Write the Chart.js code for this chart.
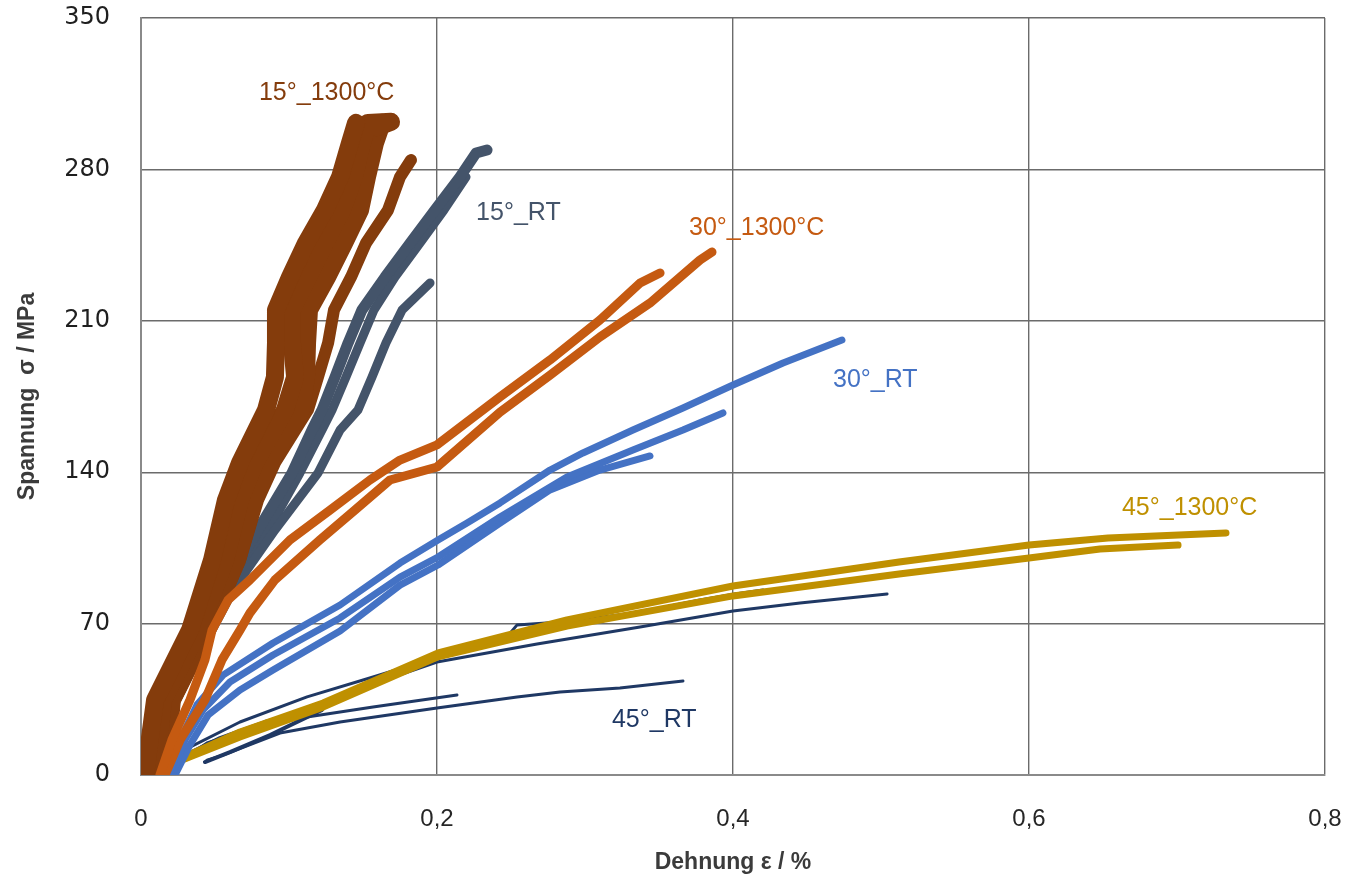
<!DOCTYPE html>
<html>
<head>
<meta charset="utf-8">
<script src="https://cdn.jsdelivr.net/npm/chart.js@4.4.1/dist/chart.umd.min.js"></script>
<style>
  body { margin: 0; background: #fff; }
  #wrap { width: 1357px; height: 883px; }
</style>
</head>
<body>
<div id="wrap"><canvas id="chart"></canvas></div>
<script>
// Dehnung (%) / Spannung (MPa) pairs
const brown1300L = [[0.0027,0],[0.0095,34.7],[0.0331,67.0],[0.048,99.4],[0.0574,127.1],[0.0669,144.3],[0.0845,168.8],[0.0905,184.0],[0.0912,199.7],[0.0912,215.0],[0.1007,230.2],[0.1115,245.9],[0.1243,261.2],[0.1345,276.5],[0.1412,292.2],[0.1453,301.5]];
const brown1300M = [[0.0095,0],[0.0149,34.7],[0.0392,67.0],[0.0568,99.4],[0.0669,127.1],[0.077,144.3],[0.0973,168.8],[0.1041,184.0],[0.102,199.7],[0.102,215.0],[0.1128,230.2],[0.1243,245.9],[0.1358,261.2],[0.1439,276.5],[0.1493,292.2],[0.1534,301.5],[0.1689,302.0],[0.1595,299.5]];
const brown1300R = [[0.0162,0],[0.0209,34.7],[0.0446,67.0],[0.0649,99.4],[0.0764,127.1],[0.0872,144.3],[0.1081,168.8],[0.1115,184.0],[0.1122,199.7],[0.1135,215.0],[0.1257,230.2],[0.1372,245.9],[0.148,261.2],[0.1527,276.5],[0.1581,292.2],[0.1628,301.5]];
const brown1300D = [[0.006,0],[0.023,34.7],[0.0466,67.0],[0.0669,99.4],[0.0791,127.1],[0.0905,144.3],[0.1128,168.8],[0.1196,184.0],[0.1264,199.7],[0.1304,215.0],[0.1419,230.2],[0.152,245.9],[0.1669,261.2],[0.175,276.5],[0.1824,284.3]];

const slateRT1 = [[0,0],[0.0095,36.1],[0.0399,67.0],[0.0588,90.2],[0.0791,113.3],[0.102,139.6],[0.1155,159.5],[0.1223,168.8],[0.1311,184.0],[0.1399,199.7],[0.1493,215.0],[0.1649,230.2],[0.1818,245.9],[0.1986,261.2],[0.2155,276.5],[0.2264,287.6],[0.2338,289.0]];
const slateRT2 = [[0,0],[0.0162,36.1],[0.0453,67.0],[0.0669,90.2],[0.0905,113.3],[0.1196,139.6],[0.1345,159.5],[0.1466,168.8],[0.1561,184.0],[0.1655,199.7],[0.1764,215.0],[0.1953,227.5]];
const slateRT3 = [[0.006,0],[0.02,36.1],[0.048,67.0],[0.066,90.2],[0.086,113.3],[0.1074,139.6],[0.1223,159.5],[0.1291,168.8],[0.1385,184.0],[0.148,199.7],[0.1574,215.0],[0.1716,230.2],[0.1885,245.9],[0.2047,261.2],[0.2196,276.5]];

const orange1300A = [[0.0128,0],[0.0209,16.2],[0.0331,34.7],[0.0432,53.2],[0.048,67.0],[0.0588,80.9],[0.0736,90.2],[0.1007,108.7],[0.1277,122.5],[0.1547,136.4],[0.175,145.6],[0.2,152.6],[0.2426,174.8],[0.2764,191.9],[0.3101,210.4],[0.3372,227.5],[0.3507,232.1]];
const orange1300B = [[0.0162,0],[0.0264,16.2],[0.0432,34.7],[0.0547,53.2],[0.0669,67.0],[0.0736,74.9],[0.0905,90.2],[0.1209,108.7],[0.1446,122.5],[0.1682,136.4],[0.2,142.4],[0.2426,167.8],[0.2764,184.9],[0.3101,202.5],[0.3439,218.2],[0.3777,238.1],[0.3858,241.8]];

const blueRT1 = [[0.0196,0],[0.0264,16.2],[0.0378,32.4],[0.0554,46.2],[0.0892,61.0],[0.1345,78.6],[0.175,98.0],[0.2007,108.7],[0.2203,116.5],[0.2426,125.8],[0.2764,141.0],[0.2986,148.9],[0.3324,159.5],[0.3662,169.7],[0.4,180.3],[0.4338,190.5],[0.4736,201.1]];
const blueRT2 = [[0.0209,0],[0.0297,16.2],[0.0419,30.1],[0.0601,43.0],[0.0892,55.5],[0.1345,72.6],[0.175,91.5],[0.2007,100.8],[0.2426,119.3],[0.2878,137.8],[0.3324,150.3],[0.3662,159.5],[0.3932,167.4]];
const blueRT3 = [[0.023,0],[0.0331,13.9],[0.0453,27.7],[0.0669,39.3],[0.0892,48.5],[0.1345,66.6],[0.175,87.8],[0.2007,97.1],[0.2426,116.5],[0.2764,131.8],[0.3101,141.0],[0.3439,147.5]];

const gold1300A = [[0.0243,6.9],[0.0669,19.9],[0.123,33.3],[0.2007,56.4],[0.2878,71.7],[0.4,87.4],[0.5122,98.5],[0.6,106.3],[0.6534,109.6],[0.7331,111.9]];
const gold1300B = [[0.0243,6.0],[0.0669,17.6],[0.123,31.4],[0.2007,54.6],[0.2878,68.9],[0.4,82.8],[0.5122,92.9],[0.6,100.3],[0.648,104.5],[0.7007,106.3]];

const navyRT1 = [[0.0264,10.6],[0.0669,24.5],[0.1122,36.1],[0.1568,45.3],[0.2007,54.6],[0.2473,63.8],[0.2541,69.4],[0.2932,71.2],[0.3372,75.4],[0.3777,80.9],[0.4014,83.7],[0.4203,85.5]];
const navyRT2 = [[0.023,6.0],[0.0601,17.1],[0.1074,30.1],[0.1547,41.6],[0.2,52.2],[0.2676,60.6],[0.3372,68.4],[0.4,75.8],[0.4453,79.5],[0.5041,83.7]];
const navyRT3 = [[0.023,4.6],[0.0446,14.8],[0.0784,22.2],[0.1122,26.8],[0.1568,31.4],[0.2135,37.0]];
const navyRT4 = [[0.0446,6.9],[0.0554,9.2],[0.0939,19.4],[0.1345,24.5],[0.2,31.0],[0.2541,36.1],[0.2831,38.4],[0.3236,40.2],[0.3662,43.5]];
const navyRT5 = [[0.023,4.6],[0.05,13.9],[0.0804,21.7],[0.1074,27.7],[0.123,32.4]];
const navyRT6 = [[0.0432,6.0],[0.0601,10.6],[0.0872,18.5],[0.1223,30.1]];
const navyRT7 = [[0.0264,7.9],[0.0534,17.1],[0.0838,24.5],[0.1196,31.4]];

const xTickLabels = ['0', '0,2', '0,4', '0,6', '0,8'];
const yTicks = [0, 70, 140, 210, 280, 350];

const curveNames = ['15°_1300°C', '15°_RT', '30°_1300°C', '30°_RT', '45°_1300°C', '45°_RT'];
const curveColors = ['#843C0C', '#44546A', '#C55A11', '#4472C4', '#BF9000', '#1F3864'];
// anchor (left edge, middle) of each curve name, in axis units
const nameX = [0.0797, 0.2264, 0.3703, 0.4676, 0.6628, 0.3182];
const nameY = [315.2, 259.8, 252.9, 182.6, 123.4, 25.4];

const toXY = arr => arr.map(p => ({ x: p[0], y: p[1] }));

function curve(data, color, width, order) {
  return {
    data: toXY(data),
    showLine: true,
    borderColor: color,
    backgroundColor: color,
    borderWidth: width,
    pointRadius: 0,
    borderCapStyle: 'round',
    borderJoinStyle: 'round',
    tension: 0,
    order: order
  };
}

const datasets = [
  curve(slateRT1, curveColors[1], 11, 9),
  curve(slateRT2, curveColors[1], 9, 9),
  curve(slateRT3, curveColors[1], 9, 9),
  curve(brown1300L, curveColors[0], 18, 8),
  curve(brown1300M, curveColors[0], 18, 8),
  curve(brown1300R, curveColors[0], 18, 8),
  curve(brown1300D, curveColors[0], 12, 8),
  curve(navyRT1, curveColors[5], 3, 7),
  curve(navyRT2, curveColors[5], 3, 7),
  curve(navyRT3, curveColors[5], 3, 7),
  curve(navyRT4, curveColors[5], 3, 7),
  curve(navyRT5, curveColors[5], 4, 7),
  curve(navyRT6, curveColors[5], 4, 7),
  curve(navyRT7, curveColors[5], 4, 7),
  curve(gold1300A, curveColors[4], 7, 6),
  curve(gold1300B, curveColors[4], 7, 6),
  curve(blueRT1, curveColors[3], 7, 5),
  curve(blueRT2, curveColors[3], 7, 5),
  curve(blueRT3, curveColors[3], 7, 5),
  curve(orange1300A, curveColors[2], 9, 4),
  curve(orange1300B, curveColors[2], 9, 4)
];

const curveLabels = {
  id: 'curveLabels',
  afterDatasetsDraw(chart) {
    const { ctx, scales } = chart;
    ctx.save();
    ctx.font = '25px "Liberation Sans", Arial, sans-serif';
    ctx.textAlign = 'left';
    ctx.textBaseline = 'middle';
    curveNames.forEach((name, i) => {
      ctx.fillStyle = curveColors[i];
      ctx.fillText(name, scales.x.getPixelForValue(nameX[i]), scales.y.getPixelForValue(nameY[i]));
    });
    ctx.restore();
  }
};

new Chart(document.getElementById('chart'), {
  type: 'scatter',
  data: { datasets },
  options: {
    responsive: true,
    maintainAspectRatio: false,
    animation: false,
    layout: { padding: { left: 0, right: 32, top: 18, bottom: 0 } },
    plugins: { legend: { display: false }, tooltip: { enabled: false } },
    scales: {
      x: {
        type: 'linear',
        min: 0, max: 0.8,
        afterBuildTicks: s => { s.ticks = xTickLabels.map((_, i) => ({ value: i * 0.2 })); },
        afterFit: s => { s.height = 108; s.paddingLeft = 0; s.paddingRight = 0; },
        ticks: {
          callback: (v, i) => xTickLabels[i],
          font: { family: '"Liberation Sans", Arial, sans-serif', size: 24 },
          color: '#262626',
          padding: 30,
          maxRotation: 0
        },
        grid: { color: '#6b6b6b', lineWidth: 1.4, drawTicks: false },
        border: { color: '#8a8a8a', width: 2 },
        title: {
          display: true,
          text: 'Dehnung ε / %',
          font: { family: '"Liberation Sans", Arial, sans-serif', size: 23, weight: 'bold' },
          color: '#3b3b3b',
          padding: { top: 0, bottom: 7 }
        }
      },
      y: {
        type: 'linear',
        min: 0, max: 350,
        afterBuildTicks: s => { s.ticks = yTicks.map(v => ({ value: v })); },
        afterFit: s => { s.width = 141; s.paddingTop = 0; s.paddingBottom = 0; },
        ticks: {
          font: { family: '"DejaVu Sans", Verdana, sans-serif', size: 24 },
          color: '#1f1f1f',
          padding: 31
        },
        grid: { color: '#6b6b6b', lineWidth: 1.4, drawTicks: false },
        border: { color: '#8a8a8a', width: 2 },
        title: {
          display: true,
          text: 'Spannung  σ / MPa',
          font: { family: '"Liberation Sans", Arial, sans-serif', size: 23, weight: 'bold' },
          color: '#3b3b3b',
          padding: { top: 14, bottom: 0 }
        }
      }
    }
  },
  plugins: [curveLabels]
});
</script>
</body>
</html>
